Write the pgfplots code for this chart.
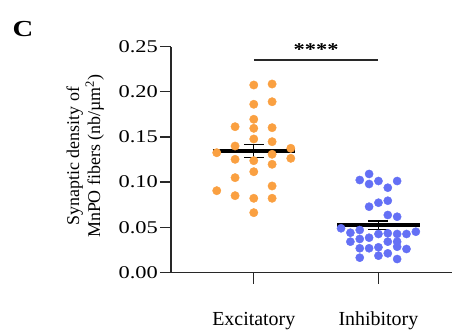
\documentclass[border=0pt]{standalone}
\usepackage{fontspec}
\setmainfont{Liberation Serif}
\newfontfamily\wfont{Liberation Serif}[FakeStretch=1.25]
\usepackage{pgfplots}
\pgfplotsset{compat=1.18}
\definecolor{exc}{RGB}{250,160,65}
\definecolor{inh}{RGB}{100,112,245}
\definecolor{axc}{RGB}{40,40,40}
\begin{document}
\begin{tikzpicture}
\useasboundingbox (-171bp,-61.5bp) rectangle (290bp,272.5bp);
\begin{axis}[
  at={(0,0)}, anchor=south west,
  scale only axis, width=281bp, height=226bp,
  xmin=0.336, xmax=2.59, ymin=0, ymax=0.25,
  axis x line*=bottom, axis y line*=left,
  axis line style={axc, line width=1.3bp},
  every tick/.style={axc, line width=1.3bp},
  tick align=outside, major tick length=11bp,
  xtick={1,2}, xticklabels={Excitatory,Inhibitory},
  ytick={0,0.05,0.10,0.15,0.20,0.25},
  yticklabel style={/pgf/number format/fixed, /pgf/number format/fixed zerofill, /pgf/number format/precision=2, font=\wfont\fontsize{18}{20}\selectfont, inner sep=2bp},
  /pgf/number format/assume math mode=true,
  xticklabel style={font=\fontsize{20}{22}\selectfont, yshift=-25bp},
  ylabel={Synaptic density of\\MnPO fibers (nb/µm\textsuperscript{2})},
  ylabel style={align=center, font=\fontsize{18}{21}\selectfont, at={(axis description cs:-0.305,0.515)}, anchor=center, rotate=0},
  clip=false,
]
% Excitatory points
\addplot[color=exc, only marks, mark=*, mark size=4.2bp, mark options={solid, fill=exc, draw=exc}] coordinates {
(1,0.2074) (1.147,0.2085) (1,0.1861) (1.147,0.1889) (1,0.1695) (0.85,0.1613)
(1,0.1595) (1.147,0.1602) (1,0.1477) (1.147,0.1447) (0.85,0.1399) (1.297,0.1374)
(0.703,0.1325) (0.85,0.1252) (1,0.1237) (1.147,0.1308) (1.297,0.1263) (1.147,0.1197)
(1,0.1115) (0.85,0.1049) (0.703,0.0905) (1.147,0.0957) (0.85,0.0850) (1,0.0821)
(1.147,0.0821) (1,0.0662)
};
% Inhibitory points
\addplot[color=inh, only marks, mark=*, mark size=4.1bp, mark options={solid, fill=inh, draw=inh}] coordinates {
(1.925,0.1090) (1.85,0.1023) (2,0.1012) (1.925,0.0979) (2.15,0.1012) (2.075,0.0938)
(1.925,0.0728) (2,0.0772) (2.075,0.0794) (2.075,0.0636) (2.15,0.0617)
(1.7,0.0489) (1.775,0.0440) (1.85,0.0470) (2,0.0426) (2.075,0.0434) (2.15,0.0426) (2.225,0.0426) (2.3,0.0451)
(1.775,0.0341) (1.85,0.0371) (1.925,0.0385) (2.075,0.0341) (2.15,0.0341)
(1.85,0.0268) (1.925,0.0268) (2,0.0279) (2.15,0.0285) (2.225,0.0260)
(1.85,0.0164) (2,0.0186) (2.075,0.0212) (2.15,0.0149)
};
% error bars (SEM)
\addplot[draw=none, mark=none, error bars/.cd, y dir=both, y explicit,
  error bar style={line width=1.3bp, black},
  error mark options={rotate=90, mark size=10bp, line width=1.3bp, black}]
  coordinates {(1,0.1344) +- (0,0.0075) (2,0.0522) +- (0,0.0048)};
% means
\addplot[black, line width=4.3bp] coordinates {(0.671,0.1344) (1.331,0.1344)};
\addplot[black, line width=4.3bp] coordinates {(1.67,0.0522) (2.33,0.0522)};
% significance
\addplot[axc, line width=1.3bp] coordinates {(1,0.235) (2,0.235)};
\node[font=\wfont\fontsize{18}{20}\selectfont\bfseries] at (axis cs:1.5,0.247) {****};
\end{axis}
\node[font=\wfont\fontsize{23}{24}\selectfont\bfseries] at (-148bp,243bp) {C};
\end{tikzpicture}
\end{document}
